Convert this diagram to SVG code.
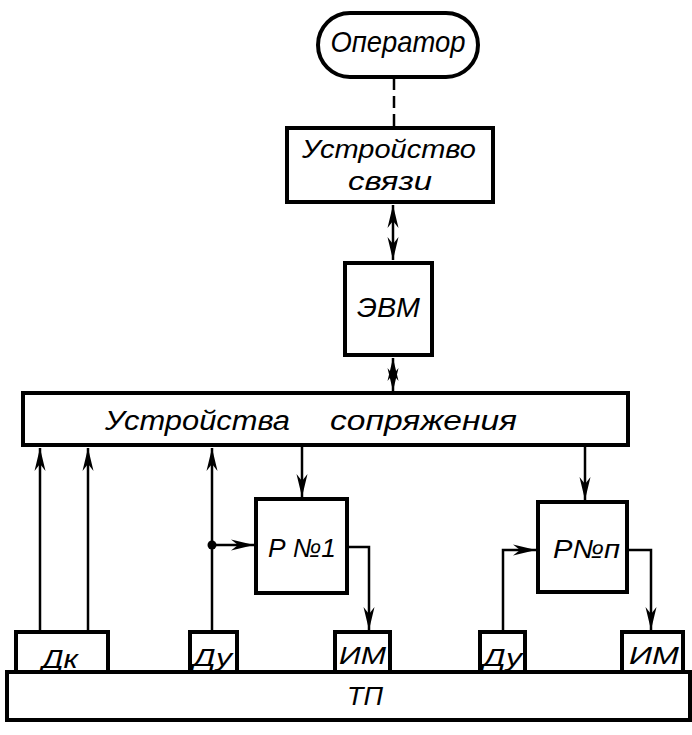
<svg xmlns="http://www.w3.org/2000/svg" width="692" height="735" viewBox="0 0 692 735">
<style>
  .box{fill:#fff;stroke:#000;stroke-width:4}
  .ln{fill:none;stroke:#000;stroke-width:2.5}
  .arr{marker-end:url(#ah)}
  .dbl{marker-end:url(#ah);marker-start:url(#ah)}
  text{font-family:"Liberation Sans","DejaVu Sans",sans-serif;font-style:italic;fill:#000}
</style>
<defs>
  <marker id="ah" markerUnits="userSpaceOnUse" viewBox="-24 -6 25 12" refX="0" refY="0" markerWidth="25" markerHeight="12" orient="auto-start-reverse">
    <path d="M0,0 L-23,-5.5 L-16,0 L-23,5.5 Z" fill="#000"/>
  </marker>
</defs>
<rect width="692" height="735" fill="#fff"/>

<g id="connectors">
  <line class="ln" x1="394" y1="78" x2="394" y2="127" stroke-dasharray="12,6" stroke-width="3"/>
  <line class="ln dbl" x1="393" y1="205" x2="393" y2="260"/>
  <line class="ln dbl" x1="393" y1="358" x2="393" y2="391"/>
  <line class="ln arr" x1="40" y1="630" x2="40" y2="448"/>
  <line class="ln arr" x1="88" y1="630" x2="88" y2="448"/>
  <line class="ln arr" x1="212" y1="630" x2="212" y2="448"/>
  <circle cx="212" cy="545" r="4.5" fill="#000"/>
  <line class="ln arr" x1="212" y1="545" x2="254" y2="545"/>
  <line class="ln arr" x1="302" y1="447" x2="302" y2="497"/>
  <polyline class="ln arr" points="349,547 369,547 369,630"/>
  <line class="ln arr" x1="585" y1="447" x2="585" y2="500"/>
  <polyline class="ln arr" points="503,630 503,550 536,550"/>
  <polyline class="ln arr" points="629,550 651,550 651,630"/>
</g>

<g id="operator">
  <rect class="box" x="318" y="13" width="160" height="64" rx="32" ry="32"/>
  <text x="398" y="52" font-size="30" text-anchor="middle" textLength="135" lengthAdjust="spacingAndGlyphs">Оператор</text>
</g>
<g id="ustr-svyazi">
  <rect class="box" x="287" y="128" width="206" height="74"/>
  <text x="302" y="158" font-size="25" textLength="174" lengthAdjust="spacingAndGlyphs">Устройство</text>
  <text x="348" y="190" font-size="25" textLength="84" lengthAdjust="spacingAndGlyphs">связи</text>
</g>
<g id="evm">
  <rect class="box" x="345" y="263" width="87" height="92"/>
  <text x="357" y="317" font-size="28" textLength="63" lengthAdjust="spacingAndGlyphs">ЭВМ</text>
</g>
<g id="ustr-sopr">
  <rect class="box" x="23" y="393" width="605" height="52"/>
  <text x="105" y="430" font-size="27" textLength="185" lengthAdjust="spacingAndGlyphs">Устройства</text>
  <text x="330" y="430" font-size="27" textLength="187" lengthAdjust="spacingAndGlyphs">сопряжения</text>
</g>
<g id="rn1">
  <rect class="box" x="256" y="499" width="91" height="94"/>
  <text x="268" y="557" font-size="26" textLength="68" lengthAdjust="spacingAndGlyphs">Р №1</text>
</g>
<g id="rnn">
  <rect class="box" x="538" y="502" width="89" height="90"/>
  <text x="553" y="558" font-size="26" textLength="67" lengthAdjust="spacingAndGlyphs">Р№п</text>
</g>
<g id="tp">
  <rect class="box" x="7" y="672" width="683" height="48"/>
  <text x="365" y="705" font-size="26" text-anchor="middle" textLength="36" lengthAdjust="spacingAndGlyphs">ТП</text>
</g>
<g id="dk">
  <rect class="box" x="16" y="632" width="92" height="40"/>
  <text x="42" y="668" font-size="26" textLength="36" lengthAdjust="spacingAndGlyphs">Дк</text>
</g>
<g id="du1">
  <rect class="box" x="190" y="632" width="47" height="40"/>
  <text x="193" y="666" font-size="24" textLength="39" lengthAdjust="spacingAndGlyphs">Ду</text>
</g>
<g id="im1">
  <rect class="box" x="335" y="632" width="55" height="40"/>
  <text x="339" y="664" font-size="24" textLength="47" lengthAdjust="spacingAndGlyphs">ИМ</text>
</g>
<g id="du2">
  <rect class="box" x="480" y="632" width="45" height="40"/>
  <text x="483" y="666" font-size="24" textLength="39" lengthAdjust="spacingAndGlyphs">Ду</text>
</g>
<g id="im2">
  <rect class="box" x="622" y="632" width="61" height="40"/>
  <text x="629" y="664" font-size="24" textLength="50" lengthAdjust="spacingAndGlyphs">ИМ</text>
</g>
</svg>
